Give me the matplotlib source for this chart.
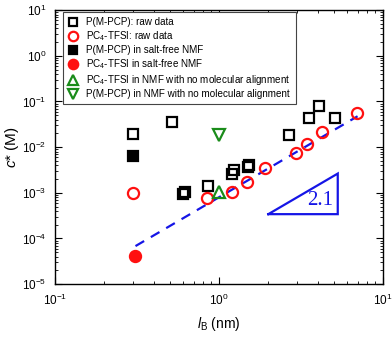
import numpy as np
import matplotlib
matplotlib.use("Agg")
import matplotlib.pyplot as plt
from matplotlib.ticker import LogLocator, NullFormatter

plt.rcParams['font.family'] = ['Liberation Sans', 'DejaVu Sans']
plt.rcParams['mathtext.fontset'] = 'custom'
plt.rcParams['mathtext.rm'] = 'Liberation Sans'
plt.rcParams['mathtext.it'] = 'Liberation Sans:italic'
plt.rcParams['mathtext.bf'] = 'Liberation Sans:bold'

# P(M-PCP) raw data
pmpcp_lb = [0.30, 0.52, 0.60, 0.62, 0.86, 1.20, 1.23, 1.50, 1.53, 2.67, 3.54, 4.07, 5.10]
pmpcp_c = [0.019, 0.035, 0.00095, 0.00105, 0.0014, 0.0026, 0.0032, 0.0037, 0.0040, 0.0184, 0.0435, 0.080, 0.043]

# PC4-TFSI raw data
pc4_lb = [0.30, 0.845, 1.20, 1.48, 1.91, 2.95, 3.44, 4.25, 6.93]
pc4_c = [0.0010, 0.00077, 0.00102, 0.0017, 0.0035, 0.0074, 0.0117, 0.0214, 0.056]

# salt-free NMF
pmpcp_free_lb, pmpcp_free_c = [0.30], [0.0063]
pc4_free_lb, pc4_free_c = [0.31], [4.2e-5]

# NMF with no molecular alignment
pc4_noalign_lb, pc4_noalign_c = [1.0], [0.00105]
pmpcp_noalign_lb, pmpcp_noalign_c = [1.0], [0.0180]

# power-law fit
slope = 2.1
fit_lb = [0.31, 7.0]
fit_c0 = 6.8e-5

fig = plt.figure(figsize=(3.92, 3.37), dpi=100)
ax = fig.add_axes([0.140, 0.157, 0.837, 0.813])
ax.set_xscale('log')
ax.set_yscale('log')
ax.set_xlim(0.1, 10)
ax.set_ylim(1e-5, 10)

fit_x = np.array(fit_lb)
fit_y = fit_c0 * (fit_x / fit_x[0]) ** slope
ax.plot(fit_x, fit_y, color='#1515e6', lw=1.6, ls=(0, (4.5, 3.5)), zorder=2)

ms = 7.5
mew = 1.6
ax.plot(pmpcp_lb, pmpcp_c, ls='none', marker='s', ms=ms, mfc='none', mec='black', mew=mew,
        label='P(M-PCP): raw data', zorder=3)
ax.plot(pc4_lb, pc4_c, ls='none', marker='o', ms=ms + 0.5, mfc='none', mec='#ff1010', mew=mew,
        label='PC$_4$-TFSI: raw data', zorder=3)
ax.plot(pmpcp_free_lb, pmpcp_free_c, ls='none', marker='s', ms=ms, mfc='black', mec='black', mew=mew,
        label='P(M-PCP) in salt-free NMF', zorder=3)
ax.plot(pc4_free_lb, pc4_free_c, ls='none', marker='o', ms=ms + 0.5, mfc='#ff1010', mec='#ff1010', mew=mew,
        label='PC$_4$-TFSI in salt-free NMF', zorder=3)
ax.plot(pc4_noalign_lb, pc4_noalign_c, ls='none', marker='^', ms=ms + 0.5, mfc='none', mec='#1a8c1a', mew=mew,
        label='PC$_4$-TFSI in NMF with no molecular alignment', zorder=3)
ax.plot(pmpcp_noalign_lb, pmpcp_noalign_c, ls='none', marker='v', ms=ms + 0.5, mfc='none', mec='#1a8c1a', mew=mew,
        label='P(M-PCP) in NMF with no molecular alignment', zorder=3)

# slope triangle
tx = np.array([2.0, 5.3])
ty0 = 3.4e-4
ty1 = ty0 * (tx[1] / tx[0]) ** slope
ax.plot([tx[0], tx[1], tx[1], tx[0]], [ty0, ty0, ty1, ty0], color='#1515e6', lw=1.6,
        solid_joinstyle='miter', zorder=2)
ax.text(5.0, 4.2e-4, '2.1', color='#1515e6', fontsize=15, family='Liberation Serif',
        ha='right', va='bottom')

ax.set_xlabel('$\\mathit{l}_{\\mathrm{B}}$ (nm)', fontsize=10, labelpad=5)
ax.set_ylabel('$\\mathit{c}$* (M)', fontsize=11, labelpad=1)

ax.tick_params(which='both', direction='in', top=True, right=True, labelsize=8.5, pad=6)
ax.tick_params(which='major', length=5, width=0.8)
ax.tick_params(which='minor', length=2.5, width=0.6)
ax.xaxis.set_minor_locator(LogLocator(base=10, subs=np.arange(2, 10), numticks=20))
ax.yaxis.set_minor_locator(LogLocator(base=10, subs=np.arange(2, 10), numticks=20))
ax.xaxis.set_minor_formatter(NullFormatter())
ax.yaxis.set_minor_formatter(NullFormatter())
ax.xaxis.set_major_locator(LogLocator(base=10, numticks=10))
ax.yaxis.set_major_locator(LogLocator(base=10, numticks=10))
for s in ax.spines.values():
    s.set_linewidth(1.0)

leg = ax.legend(loc='upper left', bbox_to_anchor=(0.024, 0.993), fontsize=7.1, frameon=True,
                fancybox=False, edgecolor='#444444', framealpha=1, borderpad=0.5,
                labelspacing=0.22, handlelength=1.0, handletextpad=0.9, borderaxespad=0,
                markerscale=0.85)
leg.get_frame().set_linewidth(0.8)

fig.savefig('out.png', dpi=100)
